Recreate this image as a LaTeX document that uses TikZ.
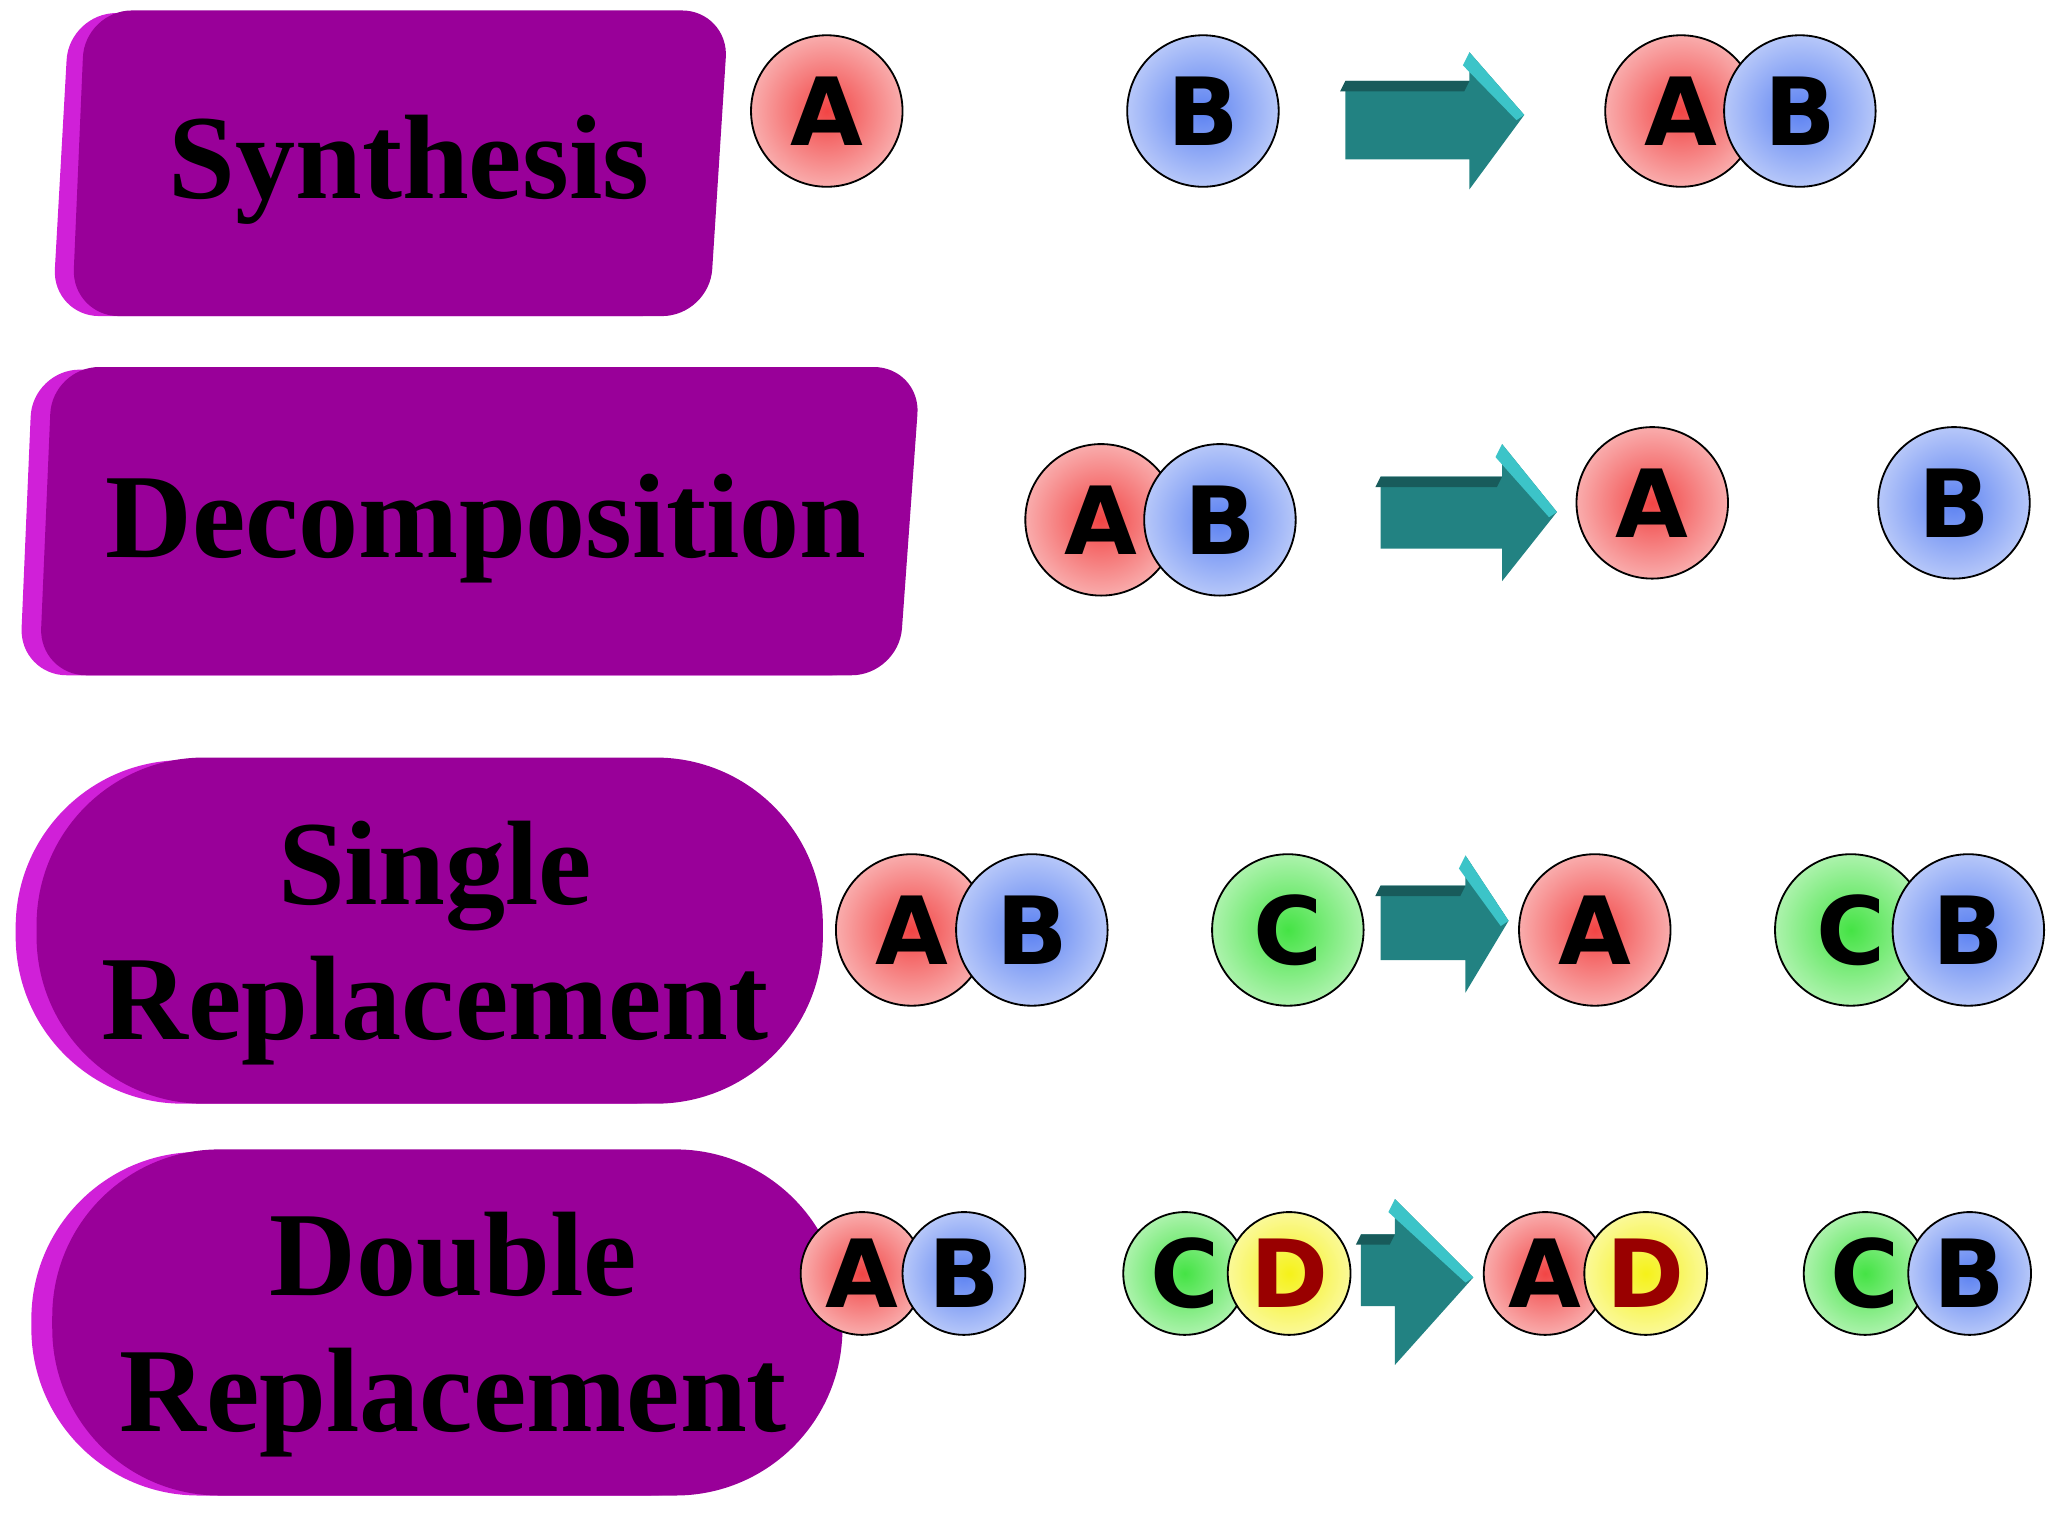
\documentclass[tikz,border=0pt]{standalone}
\usepackage{fontspec}
\setmainfont{Liberation Serif}
\newfontfamily\atomfont{DejaVu Sans}
\usetikzlibrary{shapes.geometric}
\definecolor{purp}{HTML}{990099}
\definecolor{purpedge}{HTML}{D020D8}
\definecolor{teal1}{HTML}{228282}
\definecolor{teal2}{HTML}{3CC4C8}
\definecolor{aR}{HTML}{F03030}
\definecolor{aB}{HTML}{4A74F0}
\definecolor{aG}{HTML}{30E030}
\definecolor{aY}{HTML}{F4F000}
\tikzset{
  lbl/.style={font=\bfseries\fontsize{46}{52}\selectfont, align=center, text=black},
  atomtxt/.style={font=\atomfont\bfseries\fontsize{36}{36}\selectfont},
}
\newcommand{\myatom}[6]{% name x y r color letter
  \shade[inner color=#5!90, outer color=#5!40, draw=black, line width=0.7pt] (#2,#3) circle (#4);
  \node[atomtxt] (#1) at (#2,#3) {#6};}
\newcommand{\myarrow}[8]{% x1 xh tip ybt ybb yht yhb ytip
  \fill[teal1] (#1,#4) -- (#2,#4) -- (#2,#6) -- (#3,#8) -- (#2,#7) -- (#2,#5) -- (#1,#5) -- cycle;
  \fill[teal2] (#2,#6) -- (#3,#8) -- (#3-6,#8+4) -- (#2-5,#6+10) -- cycle;
  \fill[teal1!70!black] (#1,#4) -- (#2,#4) -- (#2-4,#4+8) -- (#1-4,#4+8) -- cycle;}
\begin{document}
\begin{tikzpicture}[x=0.5pt,y=-0.5pt]
\useasboundingbox (0,0) rectangle (1568,1176);
% box 1
\fill[purpedge,rounded corners=18pt] (53,10) -- (540,10) -- (527,242) -- (40,242) -- cycle;
\fill[purp,rounded corners=18pt] (65,8) -- (558,8) -- (543,242) -- (55,242) -- cycle;
\node[lbl] (s1) at (313,130) {Synthesis};
% box 2
\fill[purpedge,rounded corners=18pt] (25,283) -- (690,283) -- (673,517) -- (15,517) -- cycle;
\fill[purp,rounded corners=18pt] (40,281) -- (705,281) -- (688,517) -- (30,517) -- cycle;
\node[lbl] (s2) at (372,405) {Decomposition};
% box 3
\fill[purpedge,rounded corners=64pt] (12,582) rectangle (610,845);
\fill[purp,rounded corners=64pt] (28,580) rectangle (630,845);
\node[lbl] (s3) at (333,722) {Single\\Replacement};
% box 4
\fill[purpedge,rounded corners=64pt] (24,882) rectangle (625,1145);
\fill[purp,rounded corners=64pt] (40,880) rectangle (645,1145);
\node[lbl] (s4) at (347,1022) {Double\\Replacement};
% row 1
\myatom{a1}{633}{85}{58}{aR}{A}
\myatom{b1}{921}{85}{58}{aB}{B}
\myarrow{1030}{1125}{1167}{62}{122}{40}{145}{88}
\myatom{a1p}{1287}{85}{58}{aR}{A}
\myatom{b1p}{1378}{85}{58}{aB}{B}
% row 2
\myatom{a2}{843}{398}{58}{aR}{A}
\myatom{b2}{934}{398}{58}{aB}{B}
\myarrow{1057}{1150}{1192}{365}{420}{340}{445}{392}
\myatom{a2p}{1265}{385}{58}{aR}{A}
\myatom{b2p}{1496}{385}{58}{aB}{B}
% row 3
\myatom{a3}{698}{712}{58}{aR}{A}
\myatom{b3}{790}{712}{58}{aB}{B}
\myatom{c3}{986}{712}{58}{aG}{C}
\myarrow{1057}{1122}{1155}{678}{735}{655}{760}{705}
\myatom{a3p}{1221}{712}{58}{aR}{A}
\myatom{c3p}{1417}{712}{58}{aG}{C}
\myatom{b3p}{1507}{712}{58}{aB}{B}
% row 4
\myatom{a4}{660}{975}{47}{aR}{A}
\myatom{b4}{738}{975}{47}{aB}{B}
\myatom{c4}{907}{975}{47}{aG}{C}
\myatom{d4}{987}{975}{47}{aY}{\textcolor{red!60!black}{D}}
\myarrow{1042}{1068}{1128}{945}{1000}{918}{1045}{978}
\myatom{a4p}{1183}{975}{47}{aR}{A}
\myatom{d4p}{1260}{975}{47}{aY}{\textcolor{red!60!black}{D}}
\myatom{c4p}{1428}{975}{47}{aG}{C}
\myatom{b4p}{1508}{975}{47}{aB}{B}
\end{tikzpicture}
\end{document}
